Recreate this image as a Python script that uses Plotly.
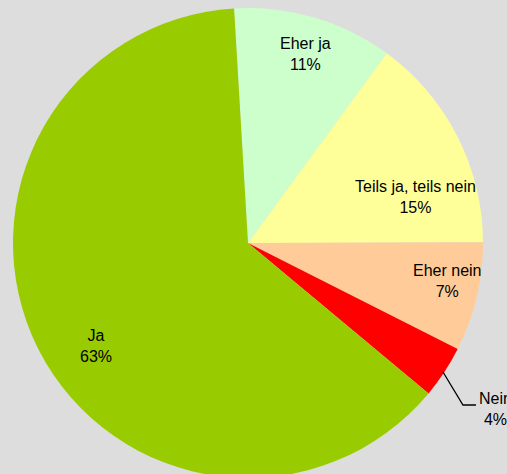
import plotly.graph_objects as go

labels = ["Eher ja", "Teils ja, teils nein", "Eher nein", "Nein", "Ja"]
values = [11.0, 14.9, 7.5, 3.6, 63.0]
shown = ["11%", "15%", "7%", "4%", "63%"]
colors = ["#ccffcc", "#ffff99", "#ffcc99", "#ff0000", "#99cc00"]

W, H = 507, 478
ml, mr, mt, mb = 13, 24, 8, 0
pw, ph = W - ml - mr, H - mt - mb

def to_paper(px, py):
    return (px - ml) / pw, (H - mb - py) / ph

# where the labels sit, in page pixels (layout, not data)
label_pos = [(305, 54), (415, 197), (447, 281), (495, 409), (96, 346)]
leader = [(443, 372), (463, 405), (476, 405)]

fig = go.Figure(go.Pie(
    labels=labels,
    values=values,
    textinfo="none",
    sort=False,
    direction="clockwise",
    rotation=-3.4,
    marker=dict(colors=colors, line=dict(width=0)),
    showlegend=False,
    hoverinfo="label+percent",
    automargin=False,
))

for lab, pct, (px, py) in zip(labels, shown, label_pos):
    x, y = to_paper(px, py)
    fig.add_annotation(
        x=x, y=y, xref="paper", yref="paper",
        text=lab + "<br>" + pct, showarrow=False,
        xanchor="center", yanchor="middle", align="center",
        font=dict(family="Liberation Sans, Arial", size=16, color="black"),
    )

pts = [to_paper(*p) for p in leader]
path = "M " + " L ".join(f"{x:.4f},{y:.4f}" for x, y in pts)
fig.add_shape(type="path", path=path, xref="paper", yref="paper",
              line=dict(color="black", width=1.3))

fig.update_layout(
    width=W, height=H,
    margin=dict(l=ml, r=mr, t=mt, b=mb),
    paper_bgcolor="#dddddd",
    plot_bgcolor="#dddddd",
)

fig.write_html("out.html",
               config={"displayModeBar": False},
               post_script="document.body.style.margin='0';"
                           "document.body.style.overflow='hidden';")
